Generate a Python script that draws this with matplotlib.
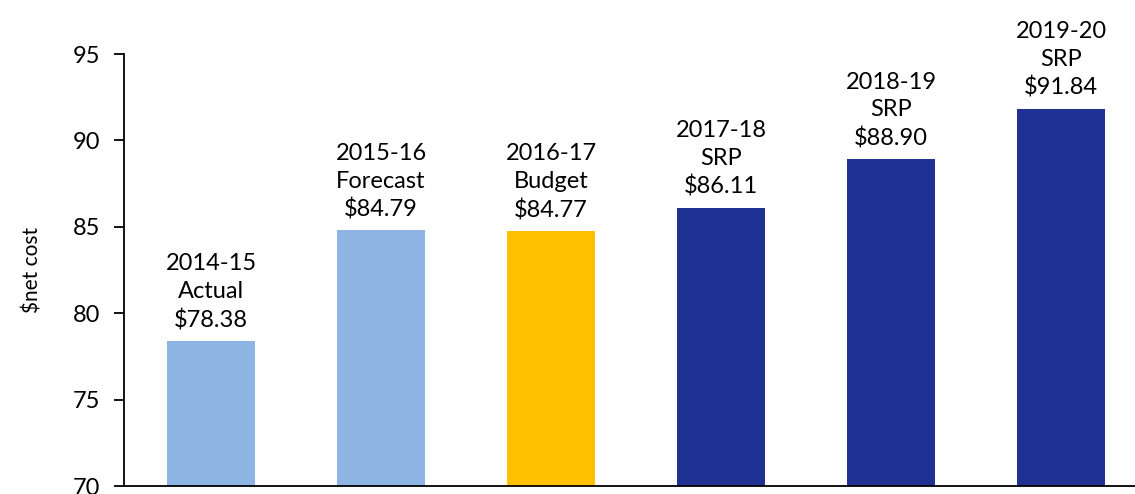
import matplotlib.pyplot as plt

years = ['2014-15', '2015-16', '2016-17', '2017-18', '2018-19', '2019-20']
kinds = ['Actual', 'Forecast', 'Budget', 'SRP', 'SRP', 'SRP']
values = [78.38, 84.79, 84.77, 86.11, 88.90, 91.84]
colors = ['#8EB4E3', '#8EB4E3', '#FFC000', '#1F3192', '#1F3192', '#1F3192']

plt.rcParams['font.family'] = ['Lato', 'DejaVu Sans']

fig = plt.figure(figsize=(11.35, 4.94), dpi=100)
ax = fig.add_axes([124 / 1135, 8 / 494, 1011 / 1135, 432 / 494])

x = list(range(len(values)))
ax.bar(x, values, width=0.52, color=colors, zorder=1)

for xi, yr, kind, v in zip(x, years, kinds, values):
    ax.annotate(yr + '\n' + kind + '\n$' + format(v, '.2f'), xy=(xi, v),
                xytext=(0, 7), textcoords='offset points',
                ha='center', va='bottom', fontsize=17, linespacing=1.4)

ax.set_ylim(70, 95)
ax.set_xlim(-0.512, 5.435)
ax.set_yticks([70, 75, 80, 85, 90, 95])
ax.set_xticks([])
ax.tick_params(axis='y', labelsize=17, length=7, width=1.3, pad=10)
ax.set_ylabel('$net cost', fontsize=15, labelpad=22)

ax.spines['top'].set_visible(False)
ax.spines['right'].set_visible(False)
ax.spines['left'].set_linewidth(1.3)
ax.spines['bottom'].set_linewidth(1.3)
ax.spines['bottom'].set_zorder(3)

fig.savefig('out.png', dpi=100)
